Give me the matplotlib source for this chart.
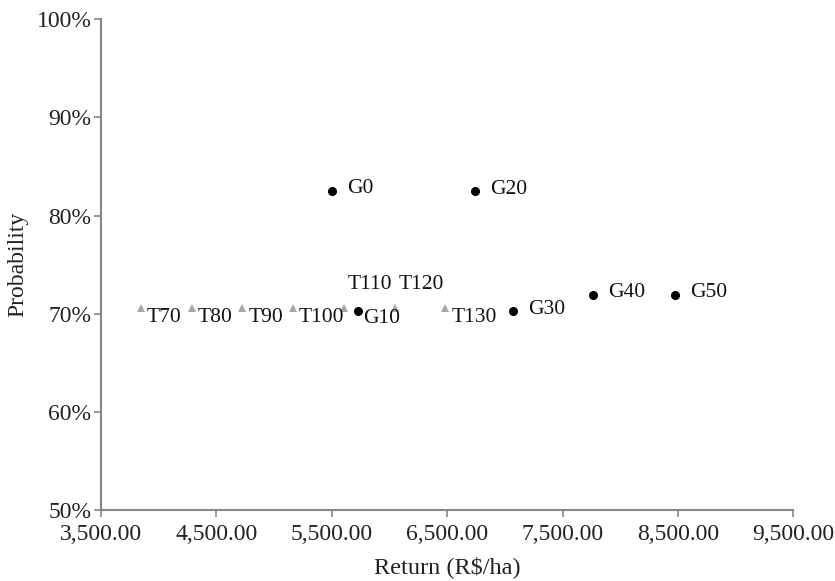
import matplotlib
matplotlib.use("Agg")
import matplotlib.pyplot as plt
from matplotlib.ticker import FuncFormatter, FixedLocator

plt.rcParams['font.family'] = ['Liberation Serif', 'DejaVu Serif']

t_labels = ["T70", "T80", "T90", "T100", "T110", "T120", "T130"]
t_return = [3845, 4285, 4725, 5165, 5605, 6045, 6485]
t_prob = [70.6, 70.6, 70.6, 70.6, 70.6, 70.6, 70.6]
t_above = [False, False, False, False, True, True, False]

g_labels = ["G0", "G10", "G20", "G30", "G40", "G50"]
g_return = [5505, 5730, 6745, 7070, 7768, 8477]
g_prob = [82.55, 70.25, 82.45, 70.25, 71.95, 71.95]
g_below = [False, True, False, False, False, False]

x_ticks = [3500, 4500, 5500, 6500, 7500, 8500, 9500]
y_ticks = [50, 60, 70, 80, 90, 100]

fig = plt.figure(figsize=(8.35, 5.81), dpi=100)
ax = fig.add_axes([0.121, 0.122, 0.829, 0.845])

ax.plot(t_return, t_prob, linestyle='none', marker='^', color='#a6a6a6', markersize=6, markeredgewidth=0)
ax.plot(g_return, g_prob, linestyle='none', marker='o', color='black', markersize=5.5)

ann_fs = 15.5
for lab, x, y, above in zip(t_labels, t_return, t_prob, t_above):
    if above:
        ax.annotate(lab, (x, y), xytext=(4, 23), textcoords='offset pixels',
                    ha='left', va='center', fontsize=ann_fs, color='#111111')
    else:
        ax.annotate(lab, (x, y), xytext=(6, -10), textcoords='offset pixels',
                    ha='left', va='center', fontsize=ann_fs, color='#111111')

for lab, x, y, below in zip(g_labels, g_return, g_prob, g_below):
    if below:
        ax.annotate(lab, (x, y), xytext=(5, -7), textcoords='offset pixels',
                    ha='left', va='center', fontsize=ann_fs, color='#111111')
    else:
        ax.annotate(lab, (x, y), xytext=(15, 2), textcoords='offset pixels',
                    ha='left', va='center', fontsize=ann_fs, color='#111111')

ax.set_xlim(3500, 9500)
ax.set_ylim(50, 100)
ax.xaxis.set_major_locator(FixedLocator(x_ticks))
ax.yaxis.set_major_locator(FixedLocator(y_ticks))
ax.xaxis.set_major_formatter(FuncFormatter(lambda v, p: f"{v:,.2f}"))
ax.yaxis.set_major_formatter(FuncFormatter(lambda v, p: f"{v:.0f}%"))

for s in ['top', 'right']:
    ax.spines[s].set_visible(False)
for s in ['left', 'bottom']:
    ax.spines[s].set_color('#868686')
    ax.spines[s].set_linewidth(1.5)
ax.tick_params(axis='both', direction='out', length=5, width=1.2, color='#868686',
               labelsize=17, labelcolor='#222222')
ax.tick_params(axis='x', pad=5)
ax.tick_params(axis='y', pad=2)

ax.set_xlabel("Return (R$/ha)", fontsize=17.5, color='#222222', labelpad=8)
ax.set_ylabel("Probability", fontsize=17, color='#222222', labelpad=6)

fig.savefig("out.png", dpi=100)
